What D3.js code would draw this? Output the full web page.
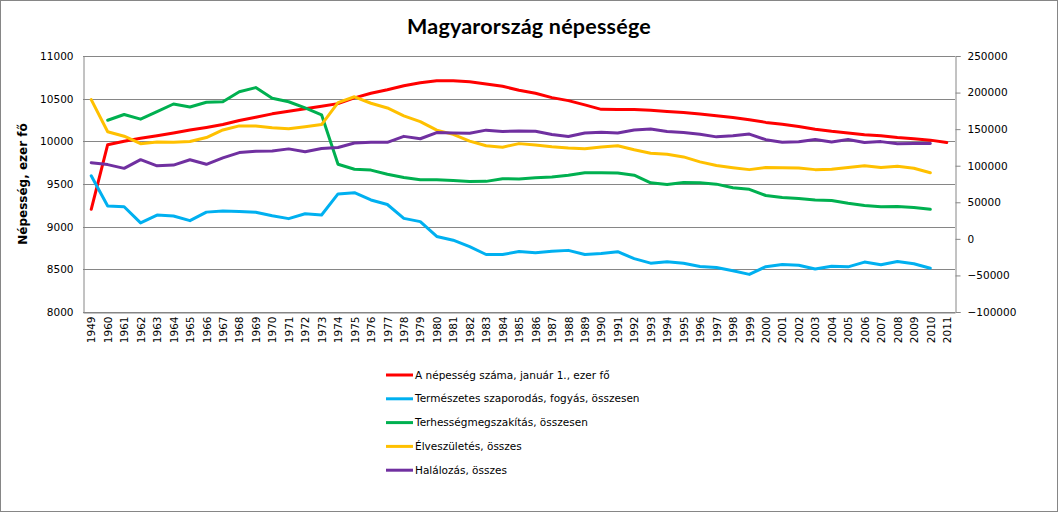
<!DOCTYPE html>
<html>
<head>
<meta charset="utf-8">
<script src="https://cdn.jsdelivr.net/npm/d3@7"></script>
<style>
  html, body { margin: 0; padding: 0; background: #fff; }
  svg { display: block; }
</style>
</head>
<body>
<svg id="chart" width="1058" height="512"></svg>
<script>
const title = "Magyarország népessége";
const yLeftTitle = "Népesség, ezer fő";

const years = ["1949","1960","1961","1962","1963","1964","1965","1966","1967","1968","1969","1970",
  "1971","1972","1973","1974","1975","1976","1977","1978","1979","1980","1981","1982","1983","1984",
  "1985","1986","1987","1988","1989","1990","1991","1992","1993","1994","1995","1996","1997","1998",
  "1999","2000","2001","2002","2003","2004","2005","2006","2007","2008","2009","2010","2011"];

// Left axis series (ezer fő)
const population = [9204,9961,10000,10035,10065,10098,10132,10163,10198,10245,10283,10322,
  10352,10382,10411,10442,10509,10563,10604,10652,10686,10709,10711,10697,10673,10645,
  10599,10563,10512,10477,10427,10375,10373,10374,10365,10350,10337,10321,10301,10280,
  10253,10222,10200,10175,10142,10117,10098,10077,10066,10045,10031,10014,9986];

// Right axis series
const naturalIncrease = [86303,44936,43955,21780,32464,31276,24890,36546,38121,37500,36500,31622,
  27631,34274,32590,61428,63138,53165,46995,28039,23535,3318,-1867,-10759,-21385,-21350,
  -17414,-18885,-16855,-15746,-21391,-19981,-17606,-27057,-33211,-31291,-33377,-37858,-39084,-43569,
  -48565,-38004,-35136,-36029,-41176,-37355,-38236,-31732,-35325,-30878,-33972,-40121,null];

const abortions = [null,162160,170030,163656,173835,184367,180269,186773,187527,201096,206817,192283,
  187425,179035,169650,102022,95158,94030,88380,83924,80767,80976,79768,78421,78599,82191,
  81970,83586,84547,87106,90508,90394,89931,87106,76629,74424,76957,76584,74801,69853,
  67681,59249,56404,55030,53015,52539,48689,45620,43870,44089,42905,40449,null];

const births = [190398,146461,140365,130053,132335,132105,133009,138489,148886,154419,154318,151819,
  150640,153265,156224,186288,194240,185405,178996,168160,160364,148673,142890,133559,127258,125359,
  130200,128204,125840,124296,123304,125679,127207,121724,117033,115598,112054,105272,100350,97301,
  94645,97597,97047,96804,94647,95137,97496,99871,97613,99149,96442,90335,null];

const deaths = [104095,101525,96410,108273,99871,100829,108119,101943,110765,117957,119657,120197,
  123009,118991,123634,124860,131102,132240,132001,140121,136829,145355,144757,144318,148643,146709,
  147614,147089,142695,140042,144695,145660,144813,148781,150244,146889,145431,143130,139434,140870,
  143210,135601,132183,132833,135823,132492,135732,131603,132938,130027,130414,130456,null];

const seriesNames = ["A népesség száma, január 1., ezer fő","Természetes szaporodás, fogyás, összesen",
  "Terhességmegszakítás, összesen","Élveszületés, összes","Halálozás, összes"];
const seriesColors = ["#FF0000","#00B0F0","#00B050","#FFC000","#7030A0"];
const leftTicks = [8000,8500,9000,9500,10000,10500,11000];
const rightTicks = [-100000,-50000,0,50000,100000,150000,200000,250000];

const svg = d3.select("#chart");
const W = 1058, H = 512;
const plot = {left: 83, right: 955, top: 56, bottom: 312};
const font = "'DejaVu Sans', Verdana, sans-serif";
const gridColor = "#868686";

// outer border
svg.append("rect").attr("x",0.5).attr("y",0.5).attr("width",W-1).attr("height",H-1)
  .attr("fill","#fff").attr("stroke",gridColor).attr("stroke-width",1);

const x = d3.scalePoint().domain(years).range([plot.left, plot.right]).padding(0.5);
const yL = d3.scaleLinear().domain([8000,11000]).range([plot.bottom, plot.top]);
const yR = d3.scaleLinear().domain([-100000,250000]).range([plot.bottom, plot.top]);

// gridlines
svg.append("g").selectAll("line").data(leftTicks).join("line")
  .attr("x1",plot.left).attr("x2",plot.right)
  .attr("y1",d=>Math.round(yL(d))+0.5).attr("y2",d=>Math.round(yL(d))+0.5)
  .attr("stroke",gridColor).attr("stroke-width",1);

// left axis
const gL = svg.append("g").attr("transform",`translate(${plot.left+0.5},0)`)
  .call(d3.axisLeft(yL).tickValues(leftTicks).tickSize(0).tickPadding(10).tickFormat(d3.format("d")));
gL.select(".domain").attr("stroke",gridColor);
gL.selectAll("text").attr("font-family",font).attr("font-size","10.5px").attr("fill","#000");

// right axis
const gR = svg.append("g").attr("transform",`translate(${plot.right+0.5},0)`)
  .call(d3.axisRight(yR).tickValues(rightTicks).tickSize(5).tickPadding(7).tickFormat(d3.format("d")));
gR.select(".domain").attr("stroke",gridColor);
gR.selectAll("line").attr("stroke",gridColor);
gR.selectAll("text").attr("font-family",font).attr("font-size","10.5px").attr("fill","#000");

// bottom axis
const gB = svg.append("g").attr("transform",`translate(0,${plot.bottom+0.5})`)
  .call(d3.axisBottom(x).tickSize(0).tickPadding(4));
gB.select(".domain").attr("stroke",gridColor);
gB.selectAll("text").attr("font-family",font).attr("font-size","10.5px").attr("fill","#000")
  .attr("transform","rotate(-90)").attr("text-anchor","end").attr("dy","0.35em").attr("x",-4).attr("y",0);

// lines
const data = [
  {vals: population, scale: yL},
  {vals: naturalIncrease, scale: yR},
  {vals: abortions, scale: yR},
  {vals: births, scale: yR},
  {vals: deaths, scale: yR}
];
data.forEach((s,i)=>{
  const line = d3.line().defined(d=>d.v!=null).x(d=>x(d.year)).y(d=>s.scale(d.v));
  svg.append("path").datum(years.map((y,j)=>({year:y, v:s.vals[j]})))
    .attr("d",line).attr("fill","none").attr("stroke",seriesColors[i])
    .attr("stroke-width",3).attr("stroke-linejoin","round").attr("stroke-linecap","round");
});

// title
svg.append("text").attr("x",529).attr("y",34).attr("text-anchor","middle")
  .attr("font-family","Lato, 'Open Sans', sans-serif").attr("font-weight","bold").attr("font-size","21.5px")
  .attr("letter-spacing","0.2px")
  .attr("fill","#000").text(title);

// y title
svg.append("text").attr("transform",`translate(27,${(plot.top+plot.bottom)/2}) rotate(-90)`)
  .attr("text-anchor","middle").attr("font-family",font).attr("font-weight","bold").attr("font-size","12px")
  .attr("fill","#000").text(yLeftTitle);

// legend
const lg = svg.append("g");
seriesNames.forEach((n,i)=>{
  const yy = 375 + i*23.8;
  lg.append("line").attr("x1",386).attr("x2",413).attr("y1",yy).attr("y2",yy)
    .attr("stroke",seriesColors[i]).attr("stroke-width",3);
  lg.append("text").attr("x",415).attr("y",yy).attr("dy","0.35em")
    .attr("font-family",font).attr("font-size","10.5px").attr("fill","#000").text(n);
});
</script>
</body>
</html>
